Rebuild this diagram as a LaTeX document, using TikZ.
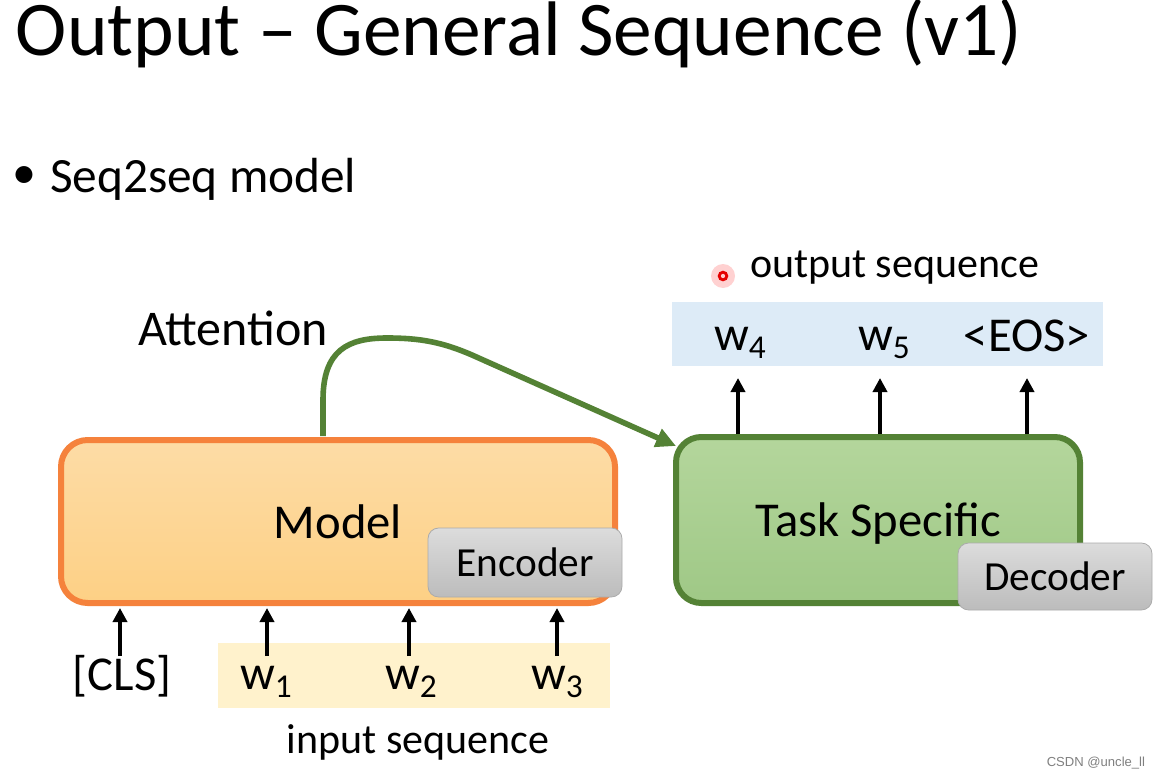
\documentclass[tikz,border=0pt]{standalone}
\usepackage{fontspec}
\setmainfont{Carlito}
\newfontfamily\wmfont{Liberation Sans}
\usetikzlibrary{arrows.meta}
\definecolor{orangeB}{HTML}{F5823C}
\definecolor{orangeT}{HTML}{FDDCA6}
\definecolor{orangeBt}{HTML}{FDD085}
\definecolor{greenB}{HTML}{548235}
\definecolor{greenT}{HTML}{B4D69C}
\definecolor{greenBt}{HTML}{9FC886}
\definecolor{grayT}{HTML}{DCDCDC}
\definecolor{grayBt}{HTML}{BCBCBC}
\definecolor{grayD}{HTML}{ABABAB}
\definecolor{blueBG}{HTML}{DDEBF7}
\definecolor{inBG}{HTML}{FFF2CC}
\newcommand\wsb[1]{w\raisebox{-6pt}{\fontsize{25pt}{25pt}\selectfont #1}}
\tikzset{
  txt/.style={inner sep=0pt, outer sep=0pt, anchor=base},
  big/.style={font=\fontsize{36.5pt}{40pt}\selectfont},
  mid/.style={font=\fontsize{31.5pt}{35pt}\selectfont},
  modelbox/.style={draw=orangeB, line width=4.5pt, rounded corners=20pt, top color=orangeT, bottom color=orangeBt, inner sep=0pt, text depth=0pt},
  taskbox/.style={draw=greenB, line width=4.5pt, rounded corners=19pt, top color=greenT, bottom color=greenBt, inner sep=0pt, text depth=0pt},
  tagbox/.style={draw=grayD, line width=0.6pt, rounded corners=8pt, top color=grayT, bottom color=grayBt, inner sep=0pt, text depth=0pt, minimum width=194*0.75pt, font=\fontsize{31pt}{35pt}\selectfont},
  bg/.style={inner sep=0pt, outer sep=0pt},
  arr/.style={line width=3.3pt, -{Triangle[length=10.5pt,width=10.5pt]}},
  attn/.style={draw=greenB, line width=4.2pt, -{Triangle[length=15pt,width=14pt]}, fill=none, greenB}
}
\begin{document}
\begin{tikzpicture}[x=0.75pt, y=-0.75pt]
\useasboundingbox[fill=white] (0,0) rectangle (1159,777);
% title
\node[txt, anchor=base west, font=\fontsize{58pt}{62pt}\selectfont] (title) at (16,56) {Output -- General Sequence (v1)};
\node[inner sep=0pt, font=\fontsize{36pt}{40pt}\selectfont] (bullet) at (24,178) {•};
\node[txt, anchor=base west, font=\fontsize{37pt}{40pt}\selectfont] (seq) at (50,193) {Seq2seq model};
\node[txt, anchor=base west, font=\fontsize{37.5pt}{40pt}\selectfont] (attlabel) at (138,345) {Attention};
% output sequence
\node[txt, anchor=base west, mid] (outlabel) at (750,277) {output sequence};
\node[bg, fill=blueBG, minimum width=431*0.75pt, minimum height=64*0.75pt] (outbg) at (887.5,334) {};
\node[txt, big] (w4) at (740,350) {\wsb{4}};
\node[txt, big] (w5) at (884,350) {\wsb{5}};
\node[txt, big] (eos) at (1027,351) {<EOS>};
% input sequence
\node[bg, fill=inBG, minimum width=392*0.75pt, minimum height=65*0.75pt] (inbg) at (414,675.5) {};
\node[txt, big] (cls) at (122,690) {[CLS]};
\node[txt, big] (w1) at (266,689) {\wsb{1}};
\node[txt, big] (w2) at (411,689) {\wsb{2}};
\node[txt, big] (w3) at (557,689) {\wsb{3}};
\node[txt, mid] (inlabel) at (418,753) {input sequence};
% boxes
\node[modelbox, big, minimum width=554*0.75pt, minimum height=163*0.75pt] (model) at (338,521.5) {Model};
\node[tagbox, minimum height=69*0.75pt] (enc) at (525,562.5) {Encoder};
\node[taskbox, big, minimum width=404*0.75pt, minimum height=166*0.75pt] (task) at (878,520) {Task Specific};
\node[tagbox, minimum height=67*0.75pt] (dec) at (1055,576.5) {Decoder};
% input arrows
\coordinate (c0) at (120,656);
\coordinate (c1) at (267,656);
\coordinate (c2) at (409,656);
\coordinate (c3) at (557,656);
\foreach \c in {c0,c1,c2,c3} \draw[arr] (\c) -- ([yshift=-1.5pt]\c |- model.south);
% output arrows
\coordinate (o4) at (738,378);
\coordinate (o5) at (880,378);
\coordinate (o6) at (1027,378);
\foreach \c in {o4,o5,o6} \draw[arr] (\c |- task.north) -- (\c);
% attention arrow
\coordinate (attS) at (323,436);
\coordinate (attE) at (676,446);
\draw[attn] (attS) -- (323,400) .. controls (323,350) and (348,338) .. (387,338) .. controls (420,338) and (442,342) .. (472,355) -- (attE);
% laser dot
\fill[red!40, opacity=0.45] (723,276) circle (9pt);
\fill[red!90!black] (723,276) circle (4pt);
\fill[red!20] (723,276) circle (1.6pt);
% watermark
\node[txt, anchor=base east, font=\wmfont\fontsize{9.8pt}{11pt}\selectfont, text=black!50] (wm) at (1145,766) {CSDN @uncle\_ll};
\end{tikzpicture}
\end{document}
